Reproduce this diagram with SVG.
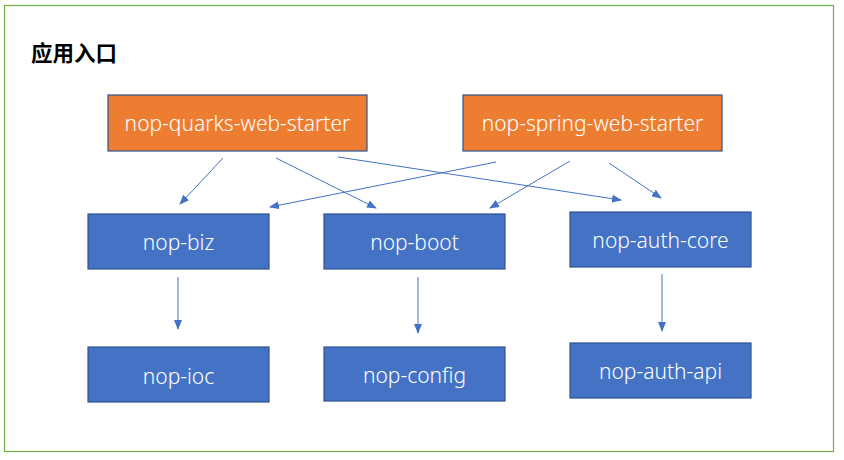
<svg xmlns="http://www.w3.org/2000/svg" width="844" height="460" viewBox="0 0 844 460">
<defs>
<marker id="ah" markerWidth="10" markerHeight="8" refX="9" refY="4" orient="auto" markerUnits="userSpaceOnUse">
<path d="M0,0 L10,4 L0,8 Z" fill="#4472C4"/>
</marker>
<style>
.frame{fill:#fff;stroke:#70AD47;stroke-width:1.2}
.org{fill:#ED7D31;stroke:#2F528F;stroke-width:1.2}
.blu{fill:#4472C4;stroke:#2F528F;stroke-width:1.2}
.lbl{font-family:"Noto Sans","Open Sans",sans-serif;font-size:21px;font-weight:300;fill:#fff;text-anchor:middle;dominant-baseline:central}
.title{font-family:"Noto Sans CJK SC",sans-serif;font-size:21.5px;font-weight:bold;fill:#000}
.c{stroke:#4472C4;stroke-width:1;fill:none;marker-end:url(#ah)}
</style>
</defs>
<rect class="frame" x="4.5" y="5.5" width="829" height="446"/>
<text class="title" x="31" y="61">应用入口</text>
<g id="nop-quarks-web-starter"><rect class="org" x="108" y="95" width="259" height="56"/><text class="lbl" x="237.5" y="123">nop-quarks-web-starter</text></g>
<g id="nop-spring-web-starter"><rect class="org" x="463" y="95" width="259" height="56"/><text class="lbl" x="592.5" y="123">nop-spring-web-starter</text></g>
<g id="nop-biz"><rect class="blu" x="88" y="214" width="181" height="55"/><text class="lbl" x="178.5" y="242">nop-biz</text></g>
<g id="nop-boot"><rect class="blu" x="324" y="214" width="181" height="55"/><text class="lbl" x="414.5" y="242">nop-boot</text></g>
<g id="nop-auth-core"><rect class="blu" x="570" y="212" width="181" height="55"/><text class="lbl" x="660.5" y="240">nop-auth-core</text></g>
<g id="nop-ioc"><rect class="blu" x="88" y="347" width="181" height="55"/><text class="lbl" x="178.5" y="376">nop-ioc</text></g>
<g id="nop-config"><rect class="blu" x="324" y="347" width="181" height="54"/><text class="lbl" x="414.5" y="375">nop-config</text></g>
<g id="nop-auth-api"><rect class="blu" x="570" y="343" width="181" height="55"/><text class="lbl" x="660.5" y="371">nop-auth-api</text></g>
<g id="connectors">
<line class="c" x1="223" y1="158" x2="180" y2="204"/>
<line class="c" x1="276" y1="158" x2="376" y2="208"/>
<line class="c" x1="338" y1="157" x2="621" y2="200"/>
<line class="c" x1="496" y1="162" x2="270" y2="207"/>
<line class="c" x1="570" y1="161" x2="490" y2="208"/>
<line class="c" x1="609" y1="163" x2="661" y2="198"/>
<line class="c" x1="178" y1="277" x2="178" y2="329"/>
<line class="c" x1="418" y1="277" x2="418" y2="333"/>
<line class="c" x1="662" y1="274" x2="662" y2="331"/>
</g>
</svg>
